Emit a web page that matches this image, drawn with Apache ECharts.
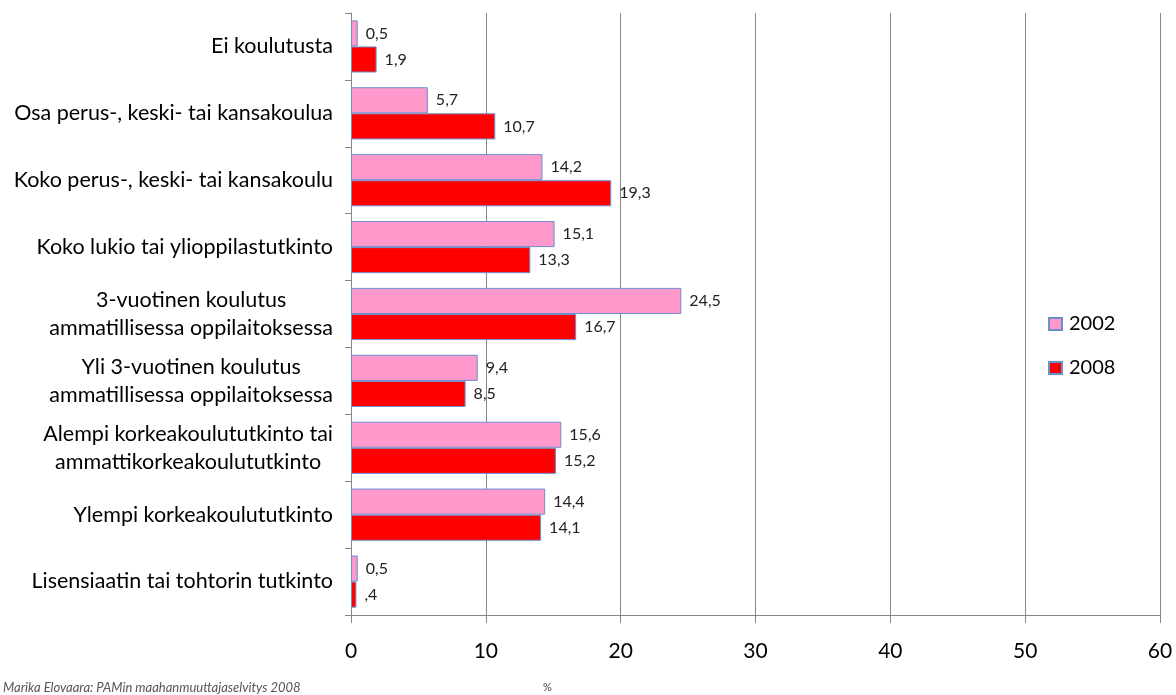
<!DOCTYPE html>
<html><head><meta charset="utf-8">
<script src="https://cdn.jsdelivr.net/npm/echarts@6/dist/echarts.min.js"></script>
<style>html,body{margin:0;padding:0;background:#fff}#c{width:1176px;height:695px}</style>
</head><body><div id="c"></div>
<script>
const categories = [
  'Ei koulutusta',
  'Osa perus-, keski- tai kansakoulua',
  'Koko perus-, keski- tai kansakoulu',
  'Koko lukio tai ylioppilastutkinto',
  '3-vuotinen koulutus\nammatillisessa oppilaitoksessa',
  'Yli 3-vuotinen koulutus\nammatillisessa oppilaitoksessa',
  'Alempi korkeakoulututkinto tai\nammattikorkeakoulututkinto',
  'Ylempi korkeakoulututkinto',
  'Lisensiaatin tai tohtorin tutkinto'
];
const values2002 = [0.5, 5.7, 14.2, 15.1, 24.5, 9.4, 15.6, 14.4, 0.5];
const values2008 = [1.9, 10.7, 19.3, 13.3, 16.7, 8.5, 15.2, 14.1, 0.4];
const labels2002 = ['0,5','5,7','14,2','15,1','24,5','9,4','15,6','14,4','0,5'];
const labels2008 = ['1,9','10,7','19,3','13,3','16,7','8,5','15,2','14,1',',4'];
const xTicks = [0, 10, 20, 30, 40, 50, 60];

const font = 'Lato, "Open Sans", sans-serif';
const chart = echarts.init(document.getElementById('c'), null, {renderer: 'canvas'});
chart.setOption({
  animation: false,
  backgroundColor: '#fff',
  textStyle: {fontFamily: font},
  grid: {left: 351, right: 16, top: 13, bottom: 80, containLabel: false},
  legend: {
    orient: 'vertical', left: 1048, top: 314, itemGap: 24, padding: 0,
    itemWidth: 13, itemHeight: 12, icon: 'rect',
    textStyle: {fontSize: 20, color: '#000', fontFamily: font, padding: [0, 0, 0, 2]},
    data: ['2002', '2008']
  },
  xAxis: {
    type: 'value', min: xTicks[0], max: xTicks[xTicks.length - 1], interval: 10,
    axisLine: {show: true, lineStyle: {color: '#868686'}},
    axisTick: {show: true, length: 8, lineStyle: {color: '#868686'}},
    splitLine: {show: true, lineStyle: {color: '#868686'}},
    axisLabel: {fontSize: 21, color: '#000', margin: 26, fontFamily: font}
  },
  yAxis: {
    type: 'category', data: categories, inverse: true,
    axisLine: {show: true, lineStyle: {color: '#868686'}},
    axisTick: {show: true, length: 6, lineStyle: {color: '#868686'}},
    axisLabel: {
      fontSize: 21.5, color: '#000', margin: 18, lineHeight: 28, fontFamily: font,
      formatter: v => v.split('\n').map(l => '{c|' + l + '}').join('\n'),
      rich: {c: {align: 'center', fontSize: 21.5, color: '#000', fontFamily: font, lineHeight: 28}}
    }
  },
  series: [
    {
      name: '2002', type: 'bar', data: values2002, barGap: '0%', barCategoryGap: '22%',
      itemStyle: {color: '#FF99CC', borderColor: '#6C8FD0', borderWidth: 1},
      label: {show: true, position: 'right', distance: 8, fontSize: 16, color: '#222', fontFamily: font,
        formatter: p => labels2002[p.dataIndex]}
    },
    {
      name: '2008', type: 'bar', data: values2008, barGap: '0%', barCategoryGap: '22%',
      itemStyle: {color: '#FF0000', borderColor: '#6C8FD0', borderWidth: 1},
      label: {show: true, position: 'right', distance: 8, fontSize: 16, color: '#222', fontFamily: font,
        formatter: p => labels2008[p.dataIndex]}
    }
  ],
  graphic: [
    {type: 'text', left: 3, top: 681, style: {text: 'Marika Elovaara: PAMin maahanmuuttajaselvitys 2008', fontSize: 13, fontStyle: 'italic', fill: '#555', fontFamily: font}},
    {type: 'text', left: 543, top: 682, style: {text: '%', fontSize: 11, fill: '#444', fontFamily: font}}
  ]
});
</script></body></html>
